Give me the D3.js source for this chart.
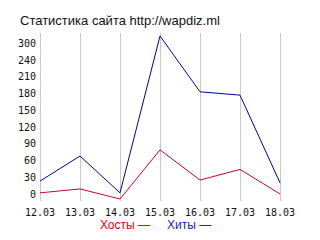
<!DOCTYPE html>
<html>
<head>
<meta charset="utf-8">
<title>wapdiz stats</title>
<script src="https://d3js.org/d3.v7.min.js"></script>
<style>
  html, body { margin: 0; padding: 0; background: #fff; }
  svg { display: block; }
  .title { font-family: "Liberation Sans", Arial, sans-serif; font-size: 13px; fill: #111; }
  .tick-label { font-family: "DejaVu Sans Mono", monospace; font-size: 10px; fill: #111; }
  .legend { font-family: "Liberation Sans", Arial, sans-serif; font-size: 12px; }
</style>
</head>
<body>
<div id="chart"></div>
<script>
// data
var days = ["12.03", "13.03", "14.03", "15.03", "16.03", "17.03", "18.03"];
var hits = [32, 77, 11, 292, 192, 186, 29];    // Хиты
var hosts = [11, 18, 0, 88, 34, 53, 9];        // Хосты
var yTicks = [0, 30, 60, 90, 120, 150, 180, 210, 240, 270];
var yLabels = ["0", "30", "60", "90", "120", "150", "180", "210", "240", "300"];

var width = 320, height = 240;

var svg = d3.select("#chart")
  .append("svg")
    .attr("width", width)
    .attr("height", height);

svg.append("rect")
  .attr("width", width)
  .attr("height", height)
  .attr("fill", "#fff");

// title
svg.append("text")
  .attr("class", "title")
  .attr("x", 20)
  .attr("y", 25)
  .text("Статистика сайта http://wapdiz.ml");

// scales
var x = d3.scalePoint()
  .domain(days)
  .range([40, 280]);

var y = d3.scaleLinear()
  .domain([0, 300])
  .range([199, 31.5]);

// vertical grid lines
svg.selectAll("line.grid")
  .data(days)
  .enter()
  .append("line")
    .attr("class", "grid")
    .attr("x1", function(d) { return Math.round(x(d)) + 0.5; })
    .attr("x2", function(d) { return Math.round(x(d)) + 0.5; })
    .attr("y1", 33)
    .attr("y2", 201)
    .attr("stroke", "#c8c8c8")
    .attr("stroke-width", 1);

// y labels (text only, no axis line)
svg.selectAll("text.ylab")
  .data(yTicks)
  .enter()
  .append("text")
    .attr("class", "tick-label ylab")
    .attr("x", 36)
    .attr("y", function(d) { return y(d) - 1.5; })
    .attr("text-anchor", "end")
    .text(function(d, i) { return yLabels[i]; });

// x labels
svg.selectAll("text.xlab")
  .data(days)
  .enter()
  .append("text")
    .attr("class", "tick-label xlab")
    .attr("x", function(d) { return x(d); })
    .attr("y", 215.5)
    .attr("text-anchor", "middle")
    .text(function(d) { return d; });

// lines
var line = d3.line()
  .x(function(d) { return x(d.day); })
  .y(function(d) { return y(d.value); });

function series(vals) {
  return days.map(function(d, i) { return {day: d, value: vals[i]}; });
}

svg.append("path")
  .datum(series(hosts))
  .attr("fill", "none")
  .attr("stroke", "#cc0033")
  .attr("stroke-width", 1)
  .attr("d", line);

svg.append("path")
  .datum(series(hits))
  .attr("fill", "none")
  .attr("stroke", "#0000aa")
  .attr("stroke-width", 1)
  .attr("d", line);

// legend
svg.append("text")
  .attr("class", "legend")
  .attr("x", 100)
  .attr("y", 229)
  .attr("fill", "#ee0000")
  .text("Хосты —");

svg.append("text")
  .attr("class", "legend")
  .attr("x", 167)
  .attr("y", 229)
  .attr("fill", "#2222cc")
  .text("Хиты —");
</script>
</body>
</html>
